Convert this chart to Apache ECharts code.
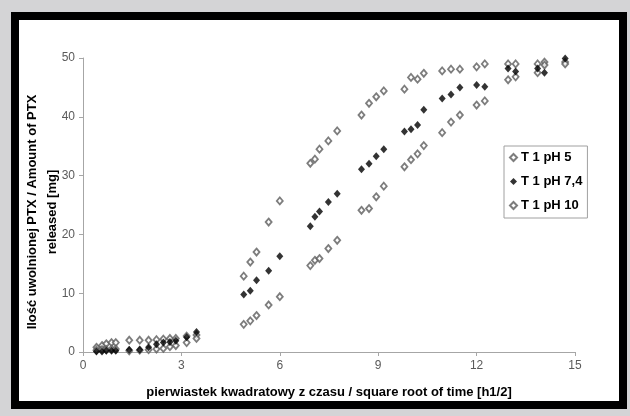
<!DOCTYPE html>
<html>
<head>
<meta charset="utf-8">
<script src="https://cdn.jsdelivr.net/npm/echarts@6/dist/echarts.min.js"></script>
<style>
  html, body { margin: 0; padding: 0; }
  body { width: 630px; height: 416px; background: #d4d4d6; position: relative; overflow: hidden; }
  .frame { position: absolute; left: 11px; top: 12px; width: 616px; height: 397px; box-sizing: border-box; border: 8px solid #000; background: #fff; }
  #chart { position: absolute; left: 0; top: 0; width: 630px; height: 416px; }
</style>
</head>
<body>
<div class="frame"></div>
<div id="chart"></div>
<script>
// pierwiastek z czasu [h1/2]
const xVals = [0.41, 0.58, 0.71, 0.87, 1.0, 1.41, 1.73, 2.0, 2.24, 2.45, 2.65, 2.83, 3.16, 3.46,
  4.9, 5.1, 5.29, 5.66, 6.0, 6.93, 7.07, 7.21, 7.48, 7.75, 8.49, 8.72, 8.94, 9.17,
  9.8, 10.0, 10.2, 10.39, 10.95, 11.22, 11.49, 12.0, 12.25, 12.96, 13.19, 13.86, 14.07, 14.7];

// ilość uwolnionej PTX [mg]
const ph5 = [0.8, 1.1, 1.4, 1.6, 1.6, 2.0, 2.0, 2.0, 2.1, 2.2, 2.3, 2.3, 2.7, 2.9,
  12.9, 15.3, 17.0, 22.1, 25.7, 32.1, 32.8, 34.5, 35.9, 37.6, 40.3, 42.3, 43.4, 44.4,
  44.7, 46.7, 46.4, 47.4, 47.8, 48.1, 48.1, 48.5, 49.0, 49.0, 49.0, 49.0, 49.3, 49.3];
const ph74 = [0.1, 0.1, 0.2, 0.2, 0.2, 0.4, 0.4, 0.8, 1.3, 1.6, 1.7, 1.9, 2.5, 3.4,
  9.8, 10.4, 12.2, 13.8, 16.3, 21.4, 23.0, 23.9, 25.5, 26.9, 31.1, 32.0, 33.3, 34.5,
  37.5, 37.9, 38.6, 41.2, 43.1, 43.8, 45.0, 45.4, 45.1, 48.2, 47.7, 48.2, 47.5, 49.9];
const ph10 = [0.3, 0.4, 0.4, 0.5, 0.5, 0.2, 0.3, 0.4, 0.5, 0.6, 0.9, 1.1, 1.6, 2.3,
  4.7, 5.3, 6.2, 8.0, 9.4, 14.7, 15.6, 15.9, 17.6, 19.0, 24.1, 24.4, 26.4, 28.2,
  31.5, 32.7, 33.7, 35.1, 37.3, 39.1, 40.3, 42.0, 42.7, 46.3, 46.8, 47.5, 48.8, 49.0];

const seriesNames = ['T 1 pH 5', 'T 1 pH 7,4', 'T 1 pH 10'];

const font = 'Liberation Sans, Arial, sans-serif';
const pairs = ys => xVals.map((x, i) => [x, ys[i]]);
const hollow = { color: '#fff', borderColor: '#5c5c5c', borderWidth: 1.8 };

const chart = echarts.init(document.getElementById('chart'), null, { renderer: 'canvas' });
chart.setOption({
  backgroundColor: 'transparent',
  animation: false,
  textStyle: { fontFamily: font },
  grid: { left: 83, right: 55, top: 58, bottom: 64 },
  legend: {
    orient: 'vertical',
    left: 504, top: 146,
    padding: [5, 5, 6, 5],
    itemGap: 11,
    itemWidth: 7, itemHeight: 7,
    borderColor: '#a0a0a0', borderWidth: 1,
    backgroundColor: '#fff',
    data: seriesNames,
    textStyle: { fontFamily: font, fontSize: 13, fontWeight: 'bold', color: '#000', padding: [0, 0, 0, -1] }
  },
  xAxis: {
    type: 'value', min: 0, max: 15, interval: 3,
    name: 'pierwiastek kwadratowy z czasu / square root of time [h1/2]',
    nameLocation: 'middle', nameGap: 34, nameMoveOverlap: false,
    nameTextStyle: { fontFamily: font, fontSize: 13, fontWeight: 'bold', color: '#000' },
    axisLine: { lineStyle: { color: '#a6a6a6', width: 1 } },
    axisTick: { show: true, inside: false, length: 4, lineStyle: { color: '#a6a6a6' } },
    axisLabel: { color: '#5a5a5a', fontSize: 12, margin: 8, fontFamily: font },
    splitLine: { show: false }
  },
  yAxis: {
    type: 'value', min: 0, max: 50, interval: 10,
    name: 'Ilość uwolnionej PTX / Amount of PTX\nreleased [mg]',
    nameLocation: 'middle', nameGap: 21, nameMoveOverlap: false,
    nameTextStyle: { fontFamily: font, fontSize: 13, fontWeight: 'bold', color: '#000', lineHeight: 20, padding: [0, 14, 0, 0] },
    axisLine: { show: true, lineStyle: { color: '#a6a6a6', width: 1 } },
    axisTick: { show: true, inside: false, length: 4, lineStyle: { color: '#a6a6a6' } },
    axisLabel: { color: '#5a5a5a', fontSize: 12, margin: 8, fontFamily: font },
    splitLine: { show: false }
  },
  series: [
    { name: seriesNames[0], type: 'scatter', symbol: 'diamond', symbolSize: [6, 7], data: pairs(ph5), itemStyle: hollow, z: 2 },
    { name: seriesNames[1], type: 'scatter', symbol: 'diamond', symbolSize: [7, 8], data: pairs(ph74), itemStyle: { color: '#000' }, z: 4 },
    { name: seriesNames[2], type: 'scatter', symbol: 'diamond', symbolSize: [6, 7], data: pairs(ph10), itemStyle: hollow, z: 3 }
  ]
});
</script>
</body>
</html>
